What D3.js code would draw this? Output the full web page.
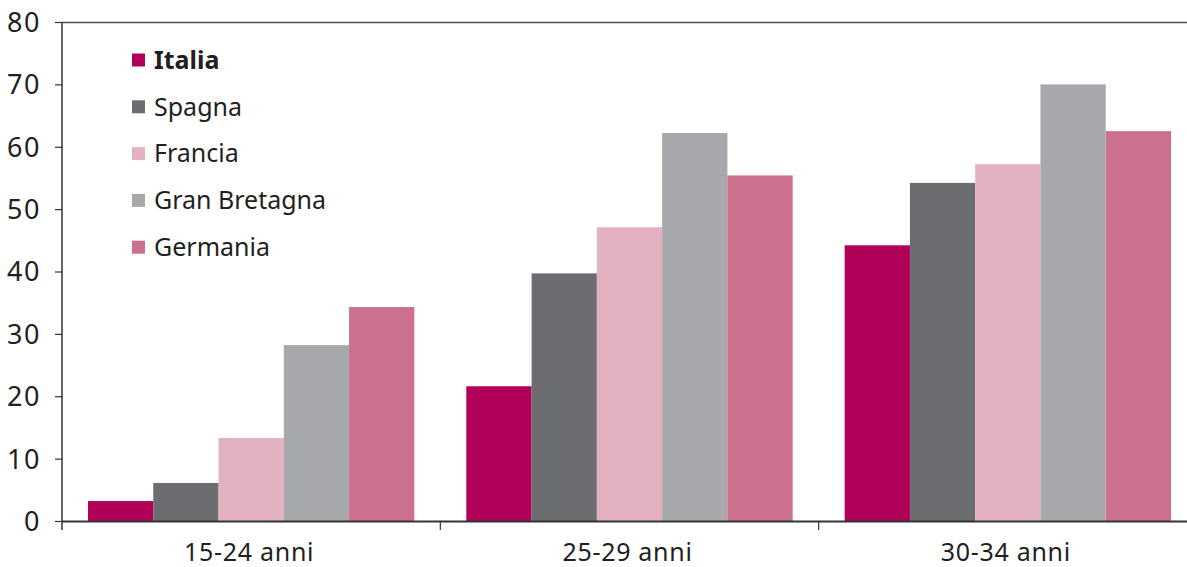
<!DOCTYPE html>
<html>
<head>
<meta charset="utf-8">
<script src="https://cdn.jsdelivr.net/npm/d3@7"></script>
<style>
body{margin:0;background:#fff;}
svg{display:block;font-family:"Noto Sans",sans-serif;}
</style>
</head>
<body>
<svg id="chart" width="1187" height="567"></svg>
<script>
const categories = ["15-24 anni", "25-29 anni", "30-34 anni"];
const seriesNames = ["Italia", "Spagna", "Francia", "Gran Bretagna", "Germania"];
const italia = [3.2, 21.6, 44.2];
const spagna = [6.1, 39.7, 54.2];
const francia = [13.3, 47.1, 57.2];
const granBretagna = [28.2, 62.2, 70.0];
const germania = [34.3, 55.4, 62.5];
const yTicks = [0, 10, 20, 30, 40, 50, 60, 70, 80];
const colors = ["#b10058", "#6c6d71", "#e2b2c0", "#a7a8ac", "#cb708e"];

const seriesValues = [italia, spagna, francia, granBretagna, germania];

const svg = d3.select("#chart");
const mLeft = 62, mRight = 1197, mTop = 22, mBottom = 521;

const x0 = d3.scaleBand().domain(categories).range([mLeft, mRight]).padding(0);
const x1 = d3.scaleBand().domain(seriesNames).range([26, x0.bandwidth() - 26]).padding(0);
const y = d3.scaleLinear().domain([0, 80]).range([mBottom, mTop]);

// bars
const groups = svg.append("g").selectAll("g").data(categories).join("g")
  .attr("transform", d => `translate(${x0(d)},0)`);
groups.selectAll("rect")
  .data((c, ci) => seriesNames.map((s, si) => ({s, si, v: seriesValues[si][ci]})))
  .join("rect")
  .attr("x", d => x1(d.s))
  .attr("width", x1.bandwidth())
  .attr("y", d => y(d.v))
  .attr("height", d => y(0) - y(d.v))
  .attr("fill", d => colors[d.si]);

// top border
svg.append("line").attr("x1", mLeft).attr("x2", 1187).attr("y1", mTop + 0.5).attr("y2", mTop + 0.5)
  .attr("stroke", "#555").attr("stroke-width", 1.5);

// y axis
const yAxis = svg.append("g").attr("transform", `translate(${mLeft},0)`)
  .call(d3.axisLeft(y).tickValues(yTicks).tickSize(7).tickPadding(14).tickSizeOuter(0));
yAxis.select(".domain").remove();
yAxis.append("line").attr("x1", 0).attr("x2", 0).attr("y1", mTop).attr("y2", mBottom + 9)
  .attr("stroke", "#333").attr("stroke-width", 1.5);
yAxis.selectAll(".tick line").attr("stroke", "#333").attr("stroke-width", 1.2);
yAxis.selectAll(".tick text").attr("fill", "#231f20").attr("font-size", 27)
  .attr("letter-spacing", 1.5)
  .attr("dy", "0.35em").attr("font-family", "'Noto Sans',sans-serif");

// x axis
const xAxis = svg.append("g").attr("transform", `translate(0,${mBottom})`);
xAxis.append("line").attr("x1", mLeft).attr("x2", 1187).attr("y1", 0.5).attr("y2", 0.5)
  .attr("stroke", "#333").attr("stroke-width", 1.8);
xAxis.selectAll(".sep").data(categories.slice(1)).join("line")
  .attr("x1", d => x0(d)).attr("x2", d => x0(d)).attr("y1", 0).attr("y2", 9)
  .attr("stroke", "#333").attr("stroke-width", 1.2);
xAxis.selectAll(".lbl").data(categories).join("text")
  .attr("x", d => x0(d) + x0.bandwidth() / 2 - 2)
  .attr("y", 40)
  .attr("text-anchor", "middle")
  .attr("font-size", 25)
  .attr("letter-spacing", 0.7)
  .attr("fill", "#231f20")
  .text(d => d);

// legend
const legend = svg.append("g").attr("transform", "translate(132,60)");
const li = legend.selectAll("g").data(seriesNames).join("g")
  .attr("transform", (d, i) => `translate(0,${i * 46.8})`);
li.append("rect").attr("x", 0).attr("y", -6.5).attr("width", 13).attr("height", 13)
  .attr("fill", (d, i) => colors[i]);
li.append("text").attr("x", 22).attr("y", 0).attr("dy", "0.35em")
  .attr("font-size", 25)
  .attr("font-weight", (d, i) => i === 0 ? "bold" : "normal")
  .attr("fill", "#231f20")
  .text(d => d);
</script>
</body>
</html>
